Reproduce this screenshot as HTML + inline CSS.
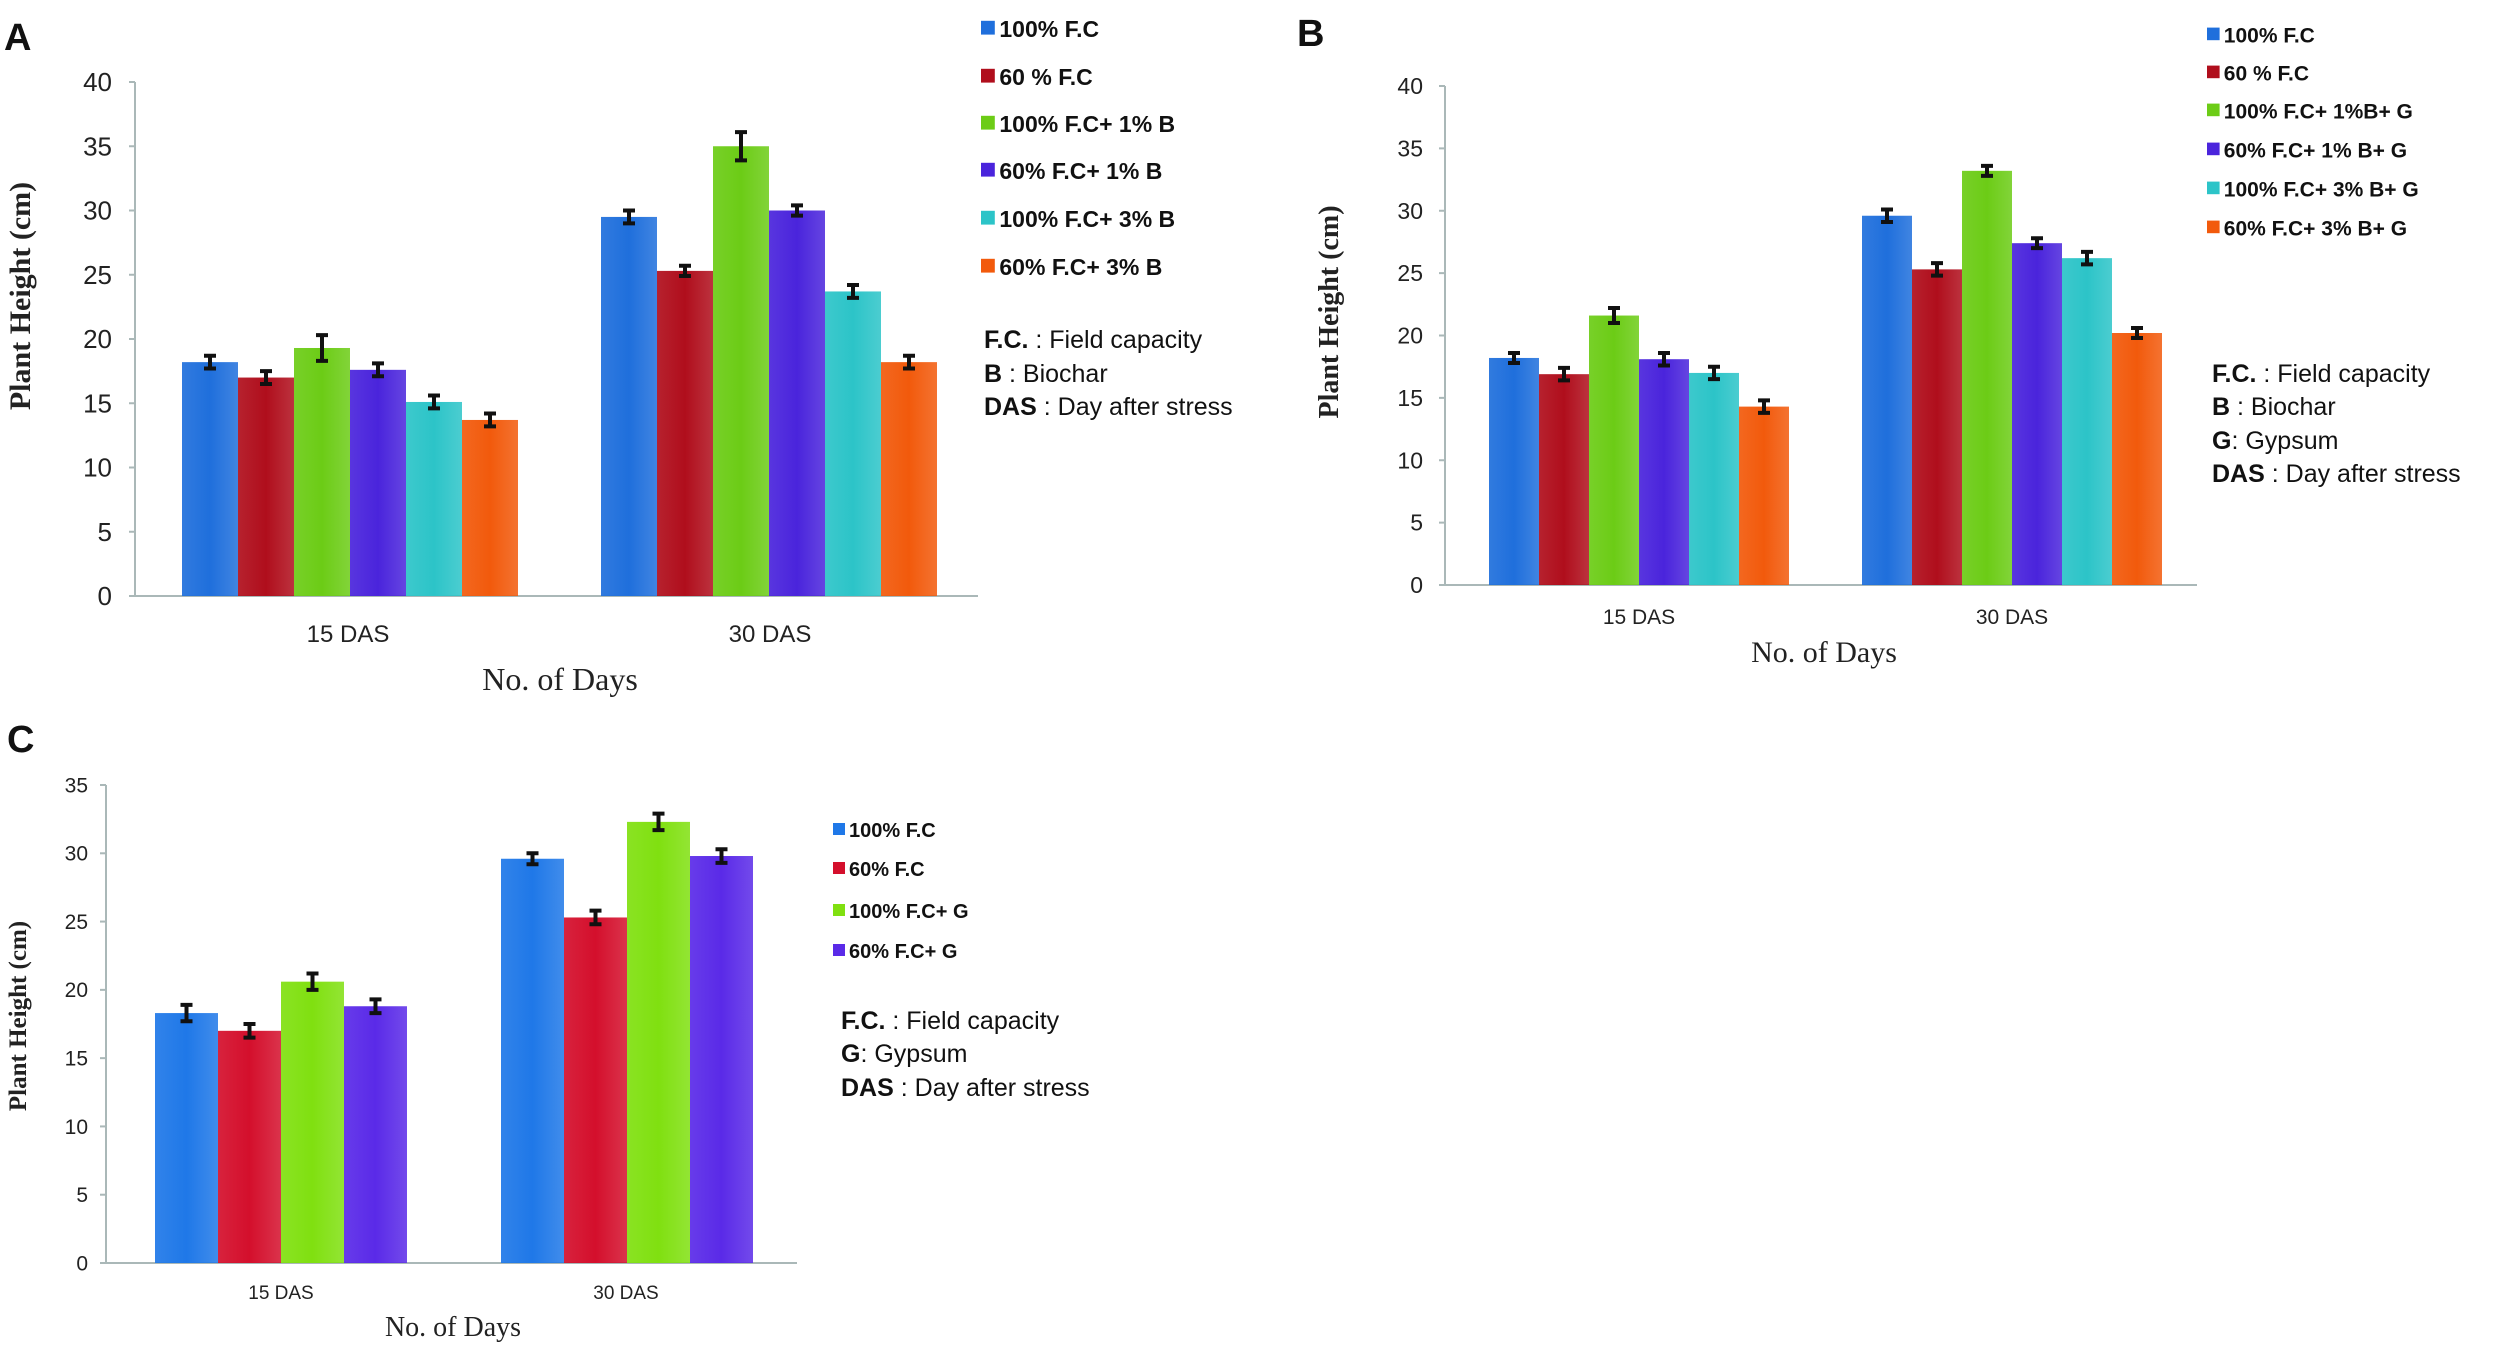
<!DOCTYPE html>
<html><head><meta charset="utf-8"><style>
html,body{margin:0;padding:0;background:#fff;}
svg{display:block;}
.tick{font-family:"Liberation Sans Narrow","Liberation Sans",sans-serif;fill:#222;}
.serif{font-family:"Liberation Serif",serif;fill:#222;}
.sans{font-family:"Liberation Sans Narrow","Liberation Sans",sans-serif;fill:#111;}
</style></head><body>
<svg id="fig" width="2500" height="1355" viewBox="0 0 2500 1355" xmlns="http://www.w3.org/2000/svg">
<defs id="defs"></defs>
</svg>
<script>
// ---- data ----
const categories = ["15 DAS", "30 DAS"];
const seriesA = ["100% F.C", "60 % F.C", "100% F.C+ 1% B", "60% F.C+ 1% B", "100% F.C+ 3% B", "60% F.C+ 3% B"];
const valuesA15 = [18.2, 17.0, 19.3, 17.6, 15.1, 13.7];
const valuesA30 = [29.5, 25.3, 35.0, 30.0, 23.7, 18.2];
const errA15 = [0.5, 0.5, 1.0, 0.5, 0.5, 0.5];
const errA30 = [0.5, 0.4, 1.1, 0.4, 0.5, 0.5];
const seriesB = ["100% F.C", "60 % F.C", "100% F.C+ 1%B+ G", "60% F.C+ 1% B+ G", "100% F.C+ 3% B+ G", "60% F.C+ 3% B+ G"];
const valuesB15 = [18.2, 16.9, 21.6, 18.1, 17.0, 14.3];
const valuesB30 = [29.6, 25.3, 33.2, 27.4, 26.2, 20.2];
const errB15 = [0.4, 0.5, 0.6, 0.5, 0.5, 0.5];
const errB30 = [0.5, 0.5, 0.4, 0.4, 0.5, 0.4];
const seriesC = ["100% F.C", "60% F.C", "100% F.C+ G", "60% F.C+ G"];
const valuesC15 = [18.3, 17.0, 20.6, 18.8];
const valuesC30 = [29.6, 25.3, 32.3, 29.8];
const errC15 = [0.6, 0.5, 0.6, 0.5];
const errC30 = [0.4, 0.5, 0.6, 0.5];
const ticksAB = [0, 5, 10, 15, 20, 25, 30, 35, 40];
const ticksC = [0, 5, 10, 15, 20, 25, 30, 35];
const notesA = [["F.C.", " : Field capacity"], ["B", " : Biochar"], ["DAS", " : Day after stress"]];
const notesB = [["F.C.", " : Field capacity"], ["B", " : Biochar"], ["G", ": Gypsum"], ["DAS", " : Day after stress"]];
const notesC = [["F.C.", " : Field capacity"], ["G", ": Gypsum"], ["DAS", " : Day after stress"]];

const NS = "http://www.w3.org/2000/svg";
const svg = document.getElementById('fig');
const defs = document.getElementById('defs');
const colorsAB = ["#1f6fdc", "#b00e1c", "#6ccc16", "#4a24dc", "#2cc4c8", "#f25a0c"];
const colorsC = ["#1f78e8", "#d40f2c", "#80e010", "#5a2ae8"];
function mk(tag, attrs, parent) {
  const e = document.createElementNS(NS, tag);
  for (const k in attrs) e.setAttribute(k, attrs[k]);
  (parent || svg).appendChild(e);
  return e;
}
function grad(id, c) {
  const g = mk('linearGradient', {id: id, x1: 0, x2: 1, y1: 0, y2: 0}, defs);
  mk('stop', {offset: '0', 'stop-color': c, 'stop-opacity': '0.92'}, g);
  mk('stop', {offset: '0.5', 'stop-color': c, 'stop-opacity': '1'}, g);
  mk('stop', {offset: '1', 'stop-color': c, 'stop-opacity': '0.85'}, g);
}
colorsAB.forEach((c, i) => grad('gab' + i, c));
colorsC.forEach((c, i) => grad('gc' + i, c));

function chart(o) {
  const g = mk('g', {});
  
  
  const yMax = o.ticks[o.ticks.length - 1];
  const ys = v => o.y0 - (v / yMax) * (o.y0 - o.yTop);
  // axes
  const ax = mk('line', {x1: o.ax, x2: o.ax, y1: o.yTop, y2: o.y0, stroke: '#aab8b8', 'stroke-width': 2}, g);
  
  
  const bx = mk('line', {x1: o.ax - 6, x2: o.axEnd, y1: o.y0, y2: o.y0, stroke: '#aab8b8', 'stroke-width': 2}, g);
  
  
  o.ticks.forEach(t => {
    mk('line', {x1: o.ax - 6, x2: o.ax, y1: ys(t), y2: ys(t), stroke: '#aab8b8', 'stroke-width': 2}, g);
    const tl = mk('text', {x: o.tickX, y: ys(t) + o.tickFs * 0.35, 'text-anchor': 'end', 'font-size': o.tickFs, class: 'tick'}, g);
    tl.textContent = t;
    
    
  });
  // bars
  const groups = [o.v15, o.v30], errs = [o.e15, o.e30];
  groups.forEach((vals, gi) => {
    vals.forEach((v, i) => {
      const x = o.gx[gi] + i * o.bw;
      const r = mk('rect', {x: x, y: ys(v), width: o.bw, height: o.y0 - ys(v), fill: 'url(#' + o.gp + i + ')'}, g);
      
      
      const cx = x + o.bw / 2, e = errs[gi][i];
      const eb = mk('path', {d: `M${cx},${ys(v + e)}V${ys(v - e)}M${cx - 6},${ys(v + e)}H${cx + 6}M${cx - 6},${ys(v - e)}H${cx + 6}`, stroke: '#111', 'stroke-width': 4, fill: 'none'}, g);
      
      
    });
    const cl = mk('text', {x: o.catX[gi], y: o.catY, 'text-anchor': 'middle', 'font-size': o.tickFs - 2, class: 'tick'}, g);
    cl.textContent = categories[gi];
    
    
  });
  // titles
  const yt = mk('text', {x: 0, y: 0, transform: `translate(${o.ytX},${o.ytY}) rotate(-90)`, 'text-anchor': 'middle', 'font-size': o.ytFs, 'font-weight': 'bold', class: 'serif'}, g);
  yt.textContent = 'Plant Height (cm)';
  
  
  const xt = mk('text', {x: o.xtX, y: o.xtY, 'text-anchor': 'middle', 'font-size': o.xtFs, class: 'serif'}, g);
  xt.textContent = 'No. of Days';
  
  
  const pl = mk('text', {x: o.pl[0], y: o.pl[1], 'font-size': 38, 'font-weight': 'bold', class: 'sans', style: 'font-family:"Liberation Sans",sans-serif'}, g);
  pl.textContent = o.letter;
  
  
  // legend
  o.series.forEach((s, i) => {
    const y = o.legY[i];
    const sw = mk('rect', {x: o.legX, y: y - o.legFs * 0.4, width: o.legFs * 0.6, height: o.legFs * 0.6, fill: o.cols[i]}, g);
    
    
    const t = mk('text', {x: o.legX + o.legFs * 0.8, y: y + o.legFs * 0.3, 'font-size': o.legFs, 'font-weight': 'bold', class: 'sans', fill: '#222'}, g);
    t.textContent = s;
    
    
  });
  o.notes.forEach((n, i) => {
    const t = mk('text', {x: o.noteX, y: o.noteY[i], 'font-size': o.noteFs, class: 'sans', style: 'font-family:"Liberation Sans",sans-serif'}, g);
    const b = mk('tspan', {'font-weight': 'bold'}, t); b.textContent = n[0];
    const r = mk('tspan', {}, t); r.textContent = n[1];
    
    
  });
}

chart({name: 'chart-a', letter: 'A', pl: [4, 50], ticks: ticksAB, ax: 135, axEnd: 978, y0: 596, yTop: 82, tickX: 112, tickFs: 26,
  gx: [182, 601], bw: 56, v15: valuesA15, v30: valuesA30, e15: errA15, e30: errA30, gp: 'gab',
  catX: [348, 770], catY: 642, ytX: 30, ytY: 296, ytFs: 30, xtX: 560, xtY: 690, xtFs: 32,
  series: seriesA, cols: colorsAB, legX: 981, legY: [30, 78, 125, 172, 220, 268], legFs: 23,
  notes: notesA, noteX: 984, noteY: [348, 382, 415], noteFs: 25});
chart({name: 'chart-b', letter: 'B', pl: [1297, 46], ticks: ticksAB, ax: 1445, axEnd: 2197, y0: 585, yTop: 86, tickX: 1423, tickFs: 23,
  gx: [1489, 1862], bw: 50, v15: valuesB15, v30: valuesB30, e15: errB15, e30: errB30, gp: 'gab',
  catX: [1639, 2012], catY: 624, ytX: 1338, ytY: 312, ytFs: 28, xtX: 1824, xtY: 662, xtFs: 30,
  series: seriesB, cols: colorsAB, legX: 2207, legY: [36, 74, 112, 151, 190, 229], legFs: 21,
  notes: notesB, noteX: 2212, noteY: [382, 415, 449, 482], noteFs: 25});
chart({name: 'chart-c', letter: 'C', pl: [7, 752], ticks: ticksC, ax: 106, axEnd: 797, y0: 1263, yTop: 785, tickX: 88, tickFs: 21,
  gx: [155, 501], bw: 63, v15: valuesC15, v30: valuesC30, e15: errC15, e30: errC30, gp: 'gc',
  catX: [281, 626], catY: 1299, ytX: 26, ytY: 1016, ytFs: 25, xtX: 453, xtY: 1336, xtFs: 28,
  series: seriesC, cols: colorsC, legX: 833, legY: [831, 870, 912, 952], legFs: 20,
  notes: notesC, noteX: 841, noteY: [1029, 1062, 1096], noteFs: 25});
</script>
</body></html>
